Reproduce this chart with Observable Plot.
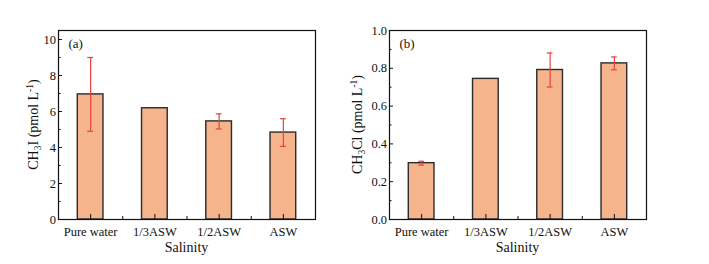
<!DOCTYPE html>
<html>
<head>
<meta charset="utf-8">
<script src="https://cdn.jsdelivr.net/npm/d3@7"></script>
<script src="https://cdn.jsdelivr.net/npm/@observablehq/plot@0.6"></script>
<style>
  html, body { margin: 0; padding: 0; background: #fff; }
  #wrap { display: flex; width: 709px; height: 264px; }
  svg { overflow: visible; }
</style>
</head>
<body>
<div id="wrap"></div>
<script>
// ---- data ----
const categories = ["Pure water", "1/3ASW", "1/2ASW", "ASW"];
const ch3iMean = [6.95, 6.18, 5.45, 4.83];
const ch3iErr  = [2.05, 0, 0.42, 0.77];
const ch3clMean = [0.298, 0.744, 0.791, 0.826];
const ch3clErr  = [0.010, 0, 0.090, 0.034];
const ch3iTicks = [0, 2, 4, 6, 8, 10];
const ch3iMinor = [1, 3, 5, 7, 9];
const ch3clTicks = [0, 0.2, 0.4, 0.6, 0.8, 1.0];
const ch3clMinor = [0.1, 0.3, 0.5, 0.7, 0.9];

const FONT = "'Liberation Serif', 'Times New Roman', serif";
const BAR_FILL = "#f5b48c";
const ERR = "#e8423f";

function panel({means, errs, yDomain, yTicks, yMinor, fmt, tag, width, marginLeft, marginRight, yLabel}) {
  const rows = categories.map((c, i) => ({pos: i + 1, name: c, mean: means[i], err: errs[i]}));
  const withErr = rows.filter(d => d.err > 0);
  const svg = Plot.plot({
    width, height: 264,
    marginLeft, marginRight, marginTop: 30, marginBottom: 45,
    style: {fontFamily: FONT, fontSize: "12.5px", color: "#111", background: "white"},
    x: {type: "linear", domain: [0.5, 4.5], axis: null},
    y: {domain: yDomain, axis: null},
    marks: [
      Plot.rectY(rows, {x1: d => d.pos - 0.2, x2: d => d.pos + 0.2, y1: 0, y2: "mean",
        fill: BAR_FILL, stroke: "#2b2b2b", strokeWidth: 1.4}),
      Plot.ruleX(withErr, {x: "pos", y1: d => d.mean - d.err, y2: d => d.mean + d.err, stroke: ERR, strokeWidth: 1.2}),
      Plot.ruleY(withErr, {y: d => d.mean + d.err, x1: d => d.pos - 0.045, x2: d => d.pos + 0.045, stroke: ERR, strokeWidth: 1.2}),
      Plot.ruleY(withErr, {y: d => d.mean - d.err, x1: d => d.pos - 0.045, x2: d => d.pos + 0.045, stroke: ERR, strokeWidth: 1.2}),
      Plot.axisY({ticks: yTicks, tickSize: -4, tickPadding: 6.5, tickFormat: fmt, label: null, fontSize: 12.5}),
      Plot.axisY({ticks: yMinor, tickSize: -2.5, text: null, label: null}),
      Plot.axisX({ticks: [1, 2, 3, 4], tickSize: -5, tickPadding: 13, tickFormat: v => categories[v - 1], label: null, fontSize: 12.5}),
      Plot.axisX({ticks: [1.5, 2.5, 3.5], tickSize: -3, text: null, label: null}),
      Plot.frame({stroke: "#111", strokeWidth: 1.2}),
      Plot.text([tag], {frameAnchor: "top-left", dx: 10, dy: 8, textAnchor: "start", lineAnchor: "top", fontSize: 13})
    ]
  });
  const s = d3.select(svg);
  const plotW = width - marginLeft - marginRight;
  // x label
  s.append("text")
    .attr("x", marginLeft + plotW / 2).attr("y", 252)
    .attr("text-anchor", "middle")
    .attr("font-family", FONT).attr("font-size", 14).attr("fill", "#111")
    .text("Salinity");
  // y label with sub/superscripts
  const t = s.append("text")
    .attr("transform", `translate(${yLabel.x},124.5) rotate(-90)`)
    .attr("text-anchor", "middle")
    .attr("font-family", FONT).attr("font-size", 14).attr("fill", "#111");
  t.append("tspan").text("CH");
  t.append("tspan").attr("font-size", 9.5).attr("dy", 3.5).text("3");
  t.append("tspan").attr("dy", -3.5).text(yLabel.rest + " (pmol L");
  t.append("tspan").attr("font-size", 9.5).attr("dy", -5).text("-1");
  t.append("tspan").attr("dy", 5).text(")");
  return svg;
}

const wrap = document.getElementById("wrap");
wrap.appendChild(panel({
  means: ch3iMean, errs: ch3iErr, yDomain: [0, 10.5], yTicks: ch3iTicks, yMinor: ch3iMinor,
  fmt: d3.format("d"), tag: "(a)", width: 345, marginLeft: 58, marginRight: 30,
  yLabel: {x: 37.5, rest: "I"}
}));
wrap.appendChild(panel({
  means: ch3clMean, errs: ch3clErr, yDomain: [0, 1.0], yTicks: ch3clTicks, yMinor: ch3clMinor,
  fmt: d3.format(".1f"), tag: "(b)", width: 364, marginLeft: 44, marginRight: 63,
  yLabel: {x: 16.5, rest: "Cl"}
}));
</script>
</body>
</html>
